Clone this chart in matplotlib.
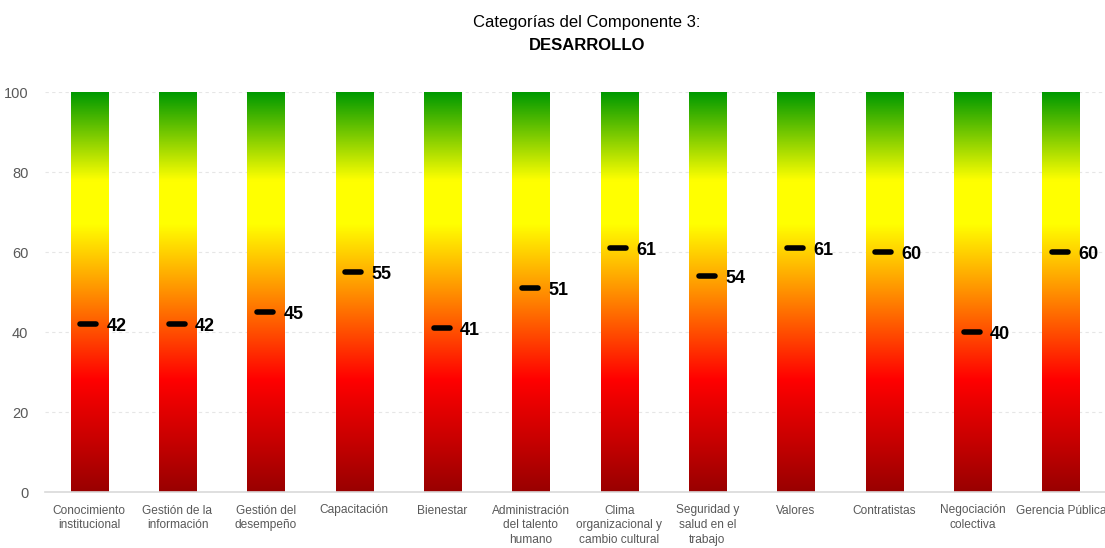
import numpy as np
import matplotlib
matplotlib.use('Agg')
import matplotlib.pyplot as plt
import matplotlib.transforms as mtransforms
from matplotlib.colors import LinearSegmentedColormap

# Categorías y puntajes del componente
categorias = ['Conocimiento\ninstitucional', 'Gestión de la\ninformación', 'Gestión del\ndesempeño',
              'Capacitación', 'Bienestar', 'Administración\ndel talento\nhumano',
              'Clima\norganizacional y\ncambio cultural', 'Seguridad y\nsalud en el\ntrabajo',
              'Valores', 'Contratistas', 'Negociación\ncolectiva', 'Gerencia Pública']
puntajes = [42, 42, 45, 55, 41, 51, 61, 54, 61, 60, 40, 60]
yticks = [0, 20, 40, 60, 80, 100]

plt.rcParams['font.family'] = ['Liberation Sans', 'DejaVu Sans']

# Escala de color rojo -> amarillo -> verde
cmap = LinearSegmentedColormap.from_list('semaforo', [
    (0.0, '#990000'), (0.28, '#ff0000'), (0.67, '#ffff00'),
    (0.78, '#ffff00'), (1.0, '#009900')])

fig = plt.figure(figsize=(11.05, 5.48), dpi=100)
ax = fig.add_axes([45 / 1105, 56 / 548, 1060 / 1105, 400 / 548])

grad = np.linspace(0, 1, 256).reshape(-1, 1)
ancho = 0.42
for i, v in enumerate(puntajes):
    ax.imshow(grad, cmap=cmap, origin='lower', aspect='auto',
              extent=[i - ancho / 2, i + ancho / 2, 0, 100], zorder=2)
    ax.plot([i - 0.1, i + 0.08], [v, v], color='black', lw=4,
            solid_capstyle='round', zorder=3)
    ax.annotate(str(v), (i + 0.2, v), xytext=(0, -2), textcoords='offset points',
                ha='left', va='center', fontsize=13, fontweight='bold', zorder=4)

ax.set_xlim(-0.5, len(puntajes) - 0.5)
ax.set_ylim(0, 100)
ax.set_xticks(range(len(categorias)))
etiquetas = ax.set_xticklabels(categorias, fontsize=8.6, color='#595959', linespacing=1.3, va='top')
# la última etiqueta se corre un poco para que no se corte en el borde
etiquetas[-1].set_transform(etiquetas[-1].get_transform() +
                            mtransforms.ScaledTranslation(-4 / 100, 0, fig.dpi_scale_trans))
ax.set_yticks(yticks)
ax.tick_params(axis='y', labelsize=10.5, labelcolor='#595959', length=0, pad=12)
ax.tick_params(axis='x', length=0, pad=9)
ax.grid(axis='y', color='#e6e6e6', ls=(0, (3, 3)), lw=0.8, zorder=0)
for s in ['top', 'right', 'left']:
    ax.spines[s].set_visible(False)
ax.spines['bottom'].set_color('#d9d9d9')
ax.spines['bottom'].set_linewidth(1.2)

fig.text(587 / 1105, 1 - 22 / 548, 'Categorías del Componente 3:', ha='center', va='center', fontsize=12)
fig.text(587 / 1105, 1 - 46 / 548, 'DESARROLLO', ha='center', va='center', fontsize=12, fontweight='bold')

fig.savefig('out.png', dpi=100)
